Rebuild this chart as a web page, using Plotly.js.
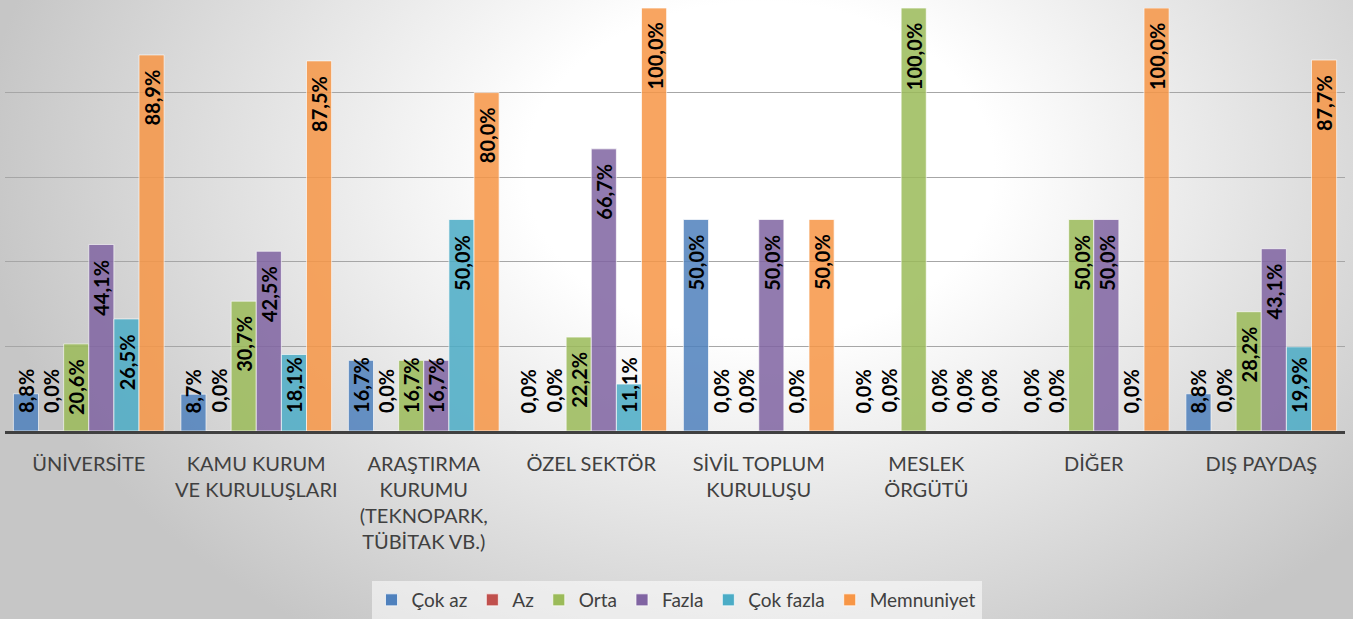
<!DOCTYPE html>
<html>
<head>
<meta charset="utf-8">
<script src="https://cdn.plot.ly/plotly-3.0.1.min.js"></script>
<style>
  html, body { margin: 0; padding: 0; }
  body {
    width: 1353px; height: 619px; overflow: hidden;
    background: radial-gradient(ellipse 780px 560px at 760px 170px, #ffffff 0%, #ffffff 30%, #c6c6c6 100%);
  }
  #chart { width: 1353px; height: 619px; }
</style>
</head>
<body>
<div id="chart"></div>
<script>
// ---- data ----
const categories = [
  'ÜNİVERSİTE',
  'KAMU KURUM<br>VE KURULUŞLARI',
  'ARAŞTIRMA<br>KURUMU<br>(TEKNOPARK,<br>TÜBİTAK VB.)',
  'ÖZEL SEKTÖR',
  'SİVİL TOPLUM<br>KURULUŞU',
  'MESLEK<br>ÖRGÜTÜ',
  'DİĞER',
  'DIŞ PAYDAŞ'
];
const seriesNames = ['Çok az', 'Az', 'Orta', 'Fazla', 'Çok fazla', 'Memnuniyet'];
const cokAz      = [8.8, 8.7, 16.7, 0.0, 50.0, 0.0, 0.0, 8.8];
const az         = [0.0, 0.0, 0.0, 0.0, 0.0, 0.0, 0.0, 0.0];
const orta       = [20.6, 30.7, 16.7, 22.2, 0.0, 100.0, 50.0, 28.2];
const fazla      = [44.1, 42.5, 16.7, 66.7, 50.0, 0.0, 50.0, 43.1];
const cokFazla   = [26.5, 18.1, 50.0, 11.1, 0.0, 0.0, 0.0, 19.9];
const memnuniyet = [88.9, 87.5, 80.0, 100.0, 50.0, 0.0, 100.0, 87.7];
const seriesValues = [cokAz, az, orta, fazla, cokFazla, memnuniyet];

// ---- style ----
const colors = ['#4F81BD', '#C0504D', '#9BBB59', '#8064A2', '#4BACC6', '#F79646'];
const W = 1353, H = 619;
const margin = { l: 5, r: 8, t: 8, b: 188 };
const yMax = 100;
const bargap = 0.1;
const labelFont = { family: 'Lato, sans-serif', size: 20, color: '#000000' };
const plotH = H - margin.t - margin.b;
const pxPerUnit = plotH / yMax;
const topPad = 14, bottomPad = 17;

function fmt(v) { return v.toFixed(1).replace('.', ',') + '%'; }

const ctx = document.createElement('canvas').getContext('2d');
ctx.font = 'bold ' + labelFont.size + 'px Lato, sans-serif';

const traces = seriesNames.map((name, j) => ({
  type: 'bar',
  name: name,
  x: categories,
  y: seriesValues[j],
  marker: { color: colors[j], opacity: 0.85, line: { color: 'rgba(255,255,255,0.7)', width: 1 } },
  hoverinfo: 'skip'
}));

const nSeries = seriesNames.length;
const slot = (1 - bargap) / nSeries;
const annotations = [];
seriesValues.forEach((vals, j) => {
  vals.forEach((v, i) => {
    const txt = fmt(v);
    const len = ctx.measureText(txt).width;
    const barPx = v * pxPerUnit;
    const xc = i - (1 - bargap) / 2 + slot * (j + 0.5);
    const clamped = (barPx - topPad - len) < bottomPad;
    annotations.push({
      xref: 'x', yref: 'y',
      x: xc,
      y: clamped ? 0 : v,
      yanchor: clamped ? 'bottom' : 'top',
      xanchor: 'center',
      yshift: clamped ? bottomPad : -topPad,
      text: '<b>' + txt + '</b>',
      textangle: -90,
      showarrow: false,
      borderpad: 0,
      font: labelFont
    });
  });
});

const layout = {
  width: W, height: H,
  margin: margin,
  paper_bgcolor: 'rgba(0,0,0,0)',
  plot_bgcolor: 'rgba(0,0,0,0)',
  barmode: 'group',
  bargap: bargap,
  bargroupgap: 0,
  font: { family: 'Lato, sans-serif', color: '#404040' },
  xaxis: {
    type: 'category',
    showgrid: false,
    zeroline: false,
    showline: true,
    linecolor: '#404040',
    linewidth: 3,
    ticks: '',
    ticklabelstandoff: 13,
    tickfont: { family: 'Lato, sans-serif', size: 20, color: '#404040' },
    tickangle: 0,
    fixedrange: true
  },
  yaxis: {
    range: [0, yMax],
    dtick: 20,
    showticklabels: false,
    showgrid: true,
    gridcolor: '#a6a6a6',
    gridwidth: 1,
    zeroline: false,
    fixedrange: true
  },
  showlegend: true,
  legend: {
    orientation: 'h',
    xref: 'container', yref: 'container',
    x: 0.5, xanchor: 'center',
    y: 0, yanchor: 'bottom',
    bgcolor: 'rgba(255,255,255,0.55)',
    font: { family: 'Lato, sans-serif', size: 19, color: '#404040' },
    itemwidth: 30,
    traceorder: 'normal'
  },
  annotations: annotations
};

Plotly.newPlot('chart', traces, layout, { displayModeBar: false, staticPlot: true });
</script>
</body>
</html>
